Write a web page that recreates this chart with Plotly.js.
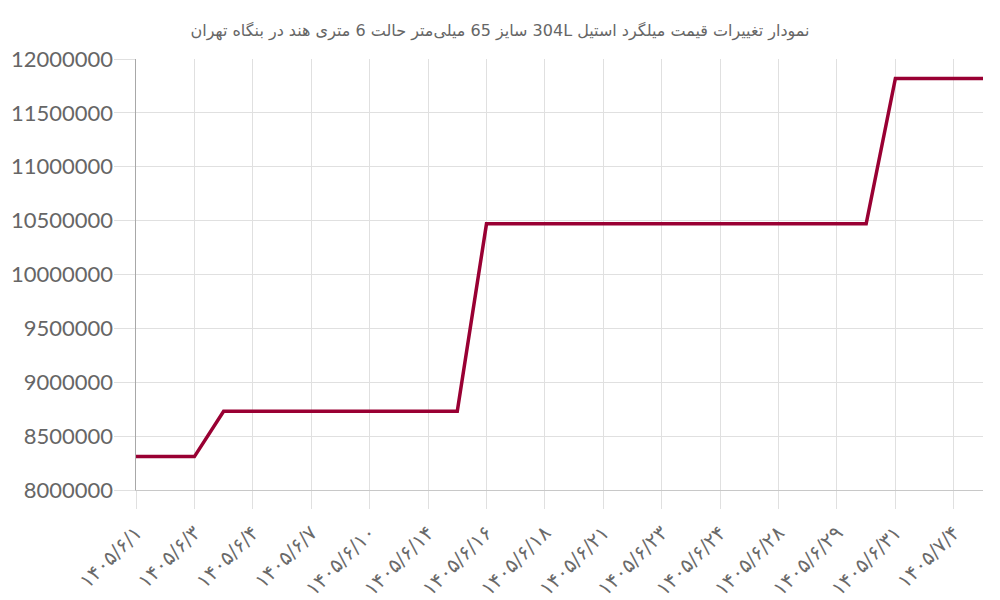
<!DOCTYPE html>
<html>
<head>
<meta charset="utf-8">
<script src="https://cdn.plot.ly/plotly-3.0.1.min.js"></script>
<style>
  html, body { margin: 0; padding: 0; background: #fff; }
  #chart { width: 1000px; height: 600px; }
</style>
</head>
<body>
<div id="chart"></div>
<script>
// one entry per reading, only every other date is labelled on the axis
let pointIndex = [0, 1, 2, 3, 4, 5, 6, 7, 8, 9, 10, 11, 12, 13, 14, 15, 16, 17, 18, 19, 20, 21, 22, 23, 24, 25, 26, 27, 28, 29];
let prices = [
    8310000, 8310000, 8310000,
    8730000, 8730000, 8730000, 8730000, 8730000, 8730000, 8730000, 8730000, 8730000,
    10470000, 10470000, 10470000, 10470000, 10470000, 10470000, 10470000, 10470000, 10470000, 10470000, 10470000, 10470000, 10470000, 10470000,
    11820000, 11820000, 11820000, 11820000
];
let tickIndex = [0, 2, 4, 6, 8, 10, 12, 14, 16, 18, 20, 22, 24, 26, 28];
let tickLabels = [
    "۱۴۰۵/۶/۱", "۱۴۰۵/۶/۳", "۱۴۰۵/۶/۴", "۱۴۰۵/۶/۷", "۱۴۰۵/۶/۱۰",
    "۱۴۰۵/۶/۱۴", "۱۴۰۵/۶/۱۶", "۱۴۰۵/۶/۱۸", "۱۴۰۵/۶/۲۱", "۱۴۰۵/۶/۲۳",
    "۱۴۰۵/۶/۲۴", "۱۴۰۵/۶/۲۸", "۱۴۰۵/۶/۲۹", "۱۴۰۵/۶/۳۱", "۱۴۰۵/۷/۴"
];
let yTicks = [8000000, 8500000, 9000000, 9500000, 10000000, 10500000, 11000000, 11500000, 12000000];
let chartTitle = "نمودار تغییرات قیمت میلگرد استیل 304L سایز 65 میلی‌متر حالت 6 متری هند در بنگاه تهران";

let priceLine = {
    x: pointIndex,
    y: prices,
    mode: "lines",
    line: {color: "#990033", width: 3.5},
    hoverinfo: "y"
};

let layout = {
    width: 1000,
    height: 600,
    margin: {l: 136, r: 17, t: 59, b: 110},
    paper_bgcolor: "#fff",
    plot_bgcolor: "#fff",
    showlegend: false,
    font: {family: "Lato, 'DejaVu Sans', sans-serif", color: "#666"},
    title: {
        // RLE ... PDF so the latin part sits inside a right-to-left line
        text: "\u202B" + chartTitle + "\u202C",
        x: 0.5,
        xanchor: "center",
        y: 0.95,
        yanchor: "middle",
        font: {size: 16, color: "#666", family: "'DejaVu Sans', sans-serif"}
    },
    xaxis: {
        range: [0, 29],
        tickmode: "array",
        tickvals: tickIndex,
        ticktext: tickLabels,
        tickangle: -45,
        tickfont: {size: 20, color: "#6a6a6a", family: "'DejaVu Sans', sans-serif"},
        ticks: "outside",
        ticklen: 18,
        ticklabelstandoff: 4,
        tickcolor: "#e0e0e0",
        showgrid: true,
        gridcolor: "#e0e0e0",
        gridwidth: 1,
        showline: true,
        linecolor: "#c8c8c8",
        linewidth: 1,
        zeroline: false,
        fixedrange: true
    },
    yaxis: {
        range: [8000000, 12000000],
        tickmode: "array",
        tickvals: yTicks,
        ticktext: yTicks.map(v => String(v)),
        tickfont: {size: 22, color: "#666"},
        ticks: "outside",
        ticklen: 21,
        ticklabelstandoff: -4,
        tickcolor: "#e0e0e0",
        showgrid: true,
        gridcolor: "#e0e0e0",
        gridwidth: 1,
        showline: true,
        linecolor: "#a8a8a8",
        linewidth: 1.5,
        zeroline: false,
        fixedrange: true
    }
};

Plotly.newPlot("chart", [priceLine], layout, {displayModeBar: false, staticPlot: true});
</script>
</body>
</html>
